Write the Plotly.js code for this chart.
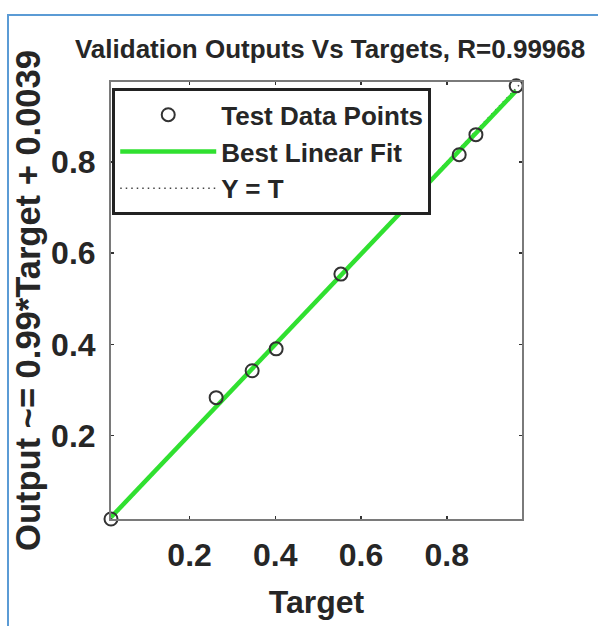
<!DOCTYPE html>
<html>
<head>
<meta charset="utf-8">
<script src="https://cdn.plot.ly/plotly-3.0.1.min.js"></script>
<style>
  html, body { margin: 0; padding: 0; background: #ffffff; }
  #frame { position: absolute; left: 7px; top: 14px; width: 620px; height: 640px;
           border-left: 2px solid #5b9bd5; border-top: 2px solid #5b9bd5; }
  #chart { position: absolute; left: 0; top: 0; width: 598px; height: 626px; }
</style>
</head>
<body>
<div id="frame"></div>
<div id="chart"></div>
<script>
// ---- data ----
const targets = [0.0167, 0.262, 0.346, 0.402, 0.553, 0.829, 0.868, 0.962];
const outputs = [0.0167, 0.283, 0.342, 0.390, 0.554, 0.816, 0.860, 0.967];
const fitSlope = 0.99;
const fitIntercept = 0.0039;
const axisLimits = [0.0167, 0.9755];
const tickValues = [0.2, 0.4, 0.6, 0.8];
const tickLabels = ['0.2', '0.4', '0.6', '0.8'];
const titleText = 'Validation Outputs Vs Targets, R=0.99968';
const xTitle = 'Target';
const yTitle = 'Output ~= 0.99*Target + 0.0039';
const legendNames = ['Test Data Points', 'Best Linear Fit', 'Y = T'];

const tMin = Math.min(...targets), tMax = Math.max(...targets);
const fitX = [tMin, tMax];
const fitY = fitX.map(t => fitSlope * t + fitIntercept);
const idX = axisLimits.slice();
const idY = axisLimits.slice();

const FONT = 'Liberation Sans, Arial, sans-serif';
const TXT = '#262626';

const traces = [
  { x: idX, y: idY, mode: 'lines', name: legendNames[2],
    line: { color: '#444444', width: 1.5, dash: '1.5px,4px' }, legendrank: 3 },
  { x: fitX, y: fitY, mode: 'lines', name: legendNames[1],
    line: { color: '#30e030', width: 4.5 }, legendrank: 2 },
  { x: targets, y: outputs, mode: 'markers', name: legendNames[0],
    marker: { symbol: 'circle-open', size: 13, color: '#333333', line: { width: 2, color: '#333333' } },
    legendrank: 1, cliponaxis: false }
];

const axisCommon = {
  range: axisLimits, tickvals: tickValues, ticktext: tickLabels,
  ticks: 'inside', ticklen: 3, tickwidth: 1.5, tickcolor: '#333333',
  showline: true, linecolor: '#7a7a7a', linewidth: 2, mirror: 'ticks',
  showgrid: false, zeroline: false,
  tickfont: { family: FONT, size: 32, color: TXT, weight: 'bold' }
};

const layout = {
  width: 598, height: 626,
  paper_bgcolor: 'rgba(0,0,0,0)', plot_bgcolor: '#ffffff',
  margin: { l: 111, r: 76, t: 82, b: 107 },
  title: { text: '<b>' + titleText + '</b>', font: { family: FONT, size: 26, color: TXT },
           xref: 'container', yref: 'container', x: 0.552, y: 1 - 49 / 626,
           xanchor: 'center', yanchor: 'middle' },
  xaxis: Object.assign({}, axisCommon, {
    ticklabelstandoff: 7,
    title: { text: '<b>' + xTitle + '</b>', font: { family: FONT, size: 32, color: TXT }, standoff: 18 }
  }),
  yaxis: Object.assign({}, axisCommon, {
    ticklabelstandoff: 7,
    title: { text: '<b>' + yTitle + '</b>', font: { family: FONT, size: 34.5, color: TXT }, standoff: 0 }
  }),
  showlegend: true,
  legend: {
    x: 0.003, y: 0.9856, xanchor: 'left', yanchor: 'top',
    bgcolor: '#ffffff', bordercolor: '#222222', borderwidth: 3,
    font: { family: FONT, size: 26, color: TXT, weight: 'bold' },
    itemwidth: 96, tracegroupgap: 0, traceorder: 'normal'
  }
};

Plotly.newPlot('chart', traces, layout, { displayModeBar: false, staticPlot: true });
</script>
</body>
</html>
